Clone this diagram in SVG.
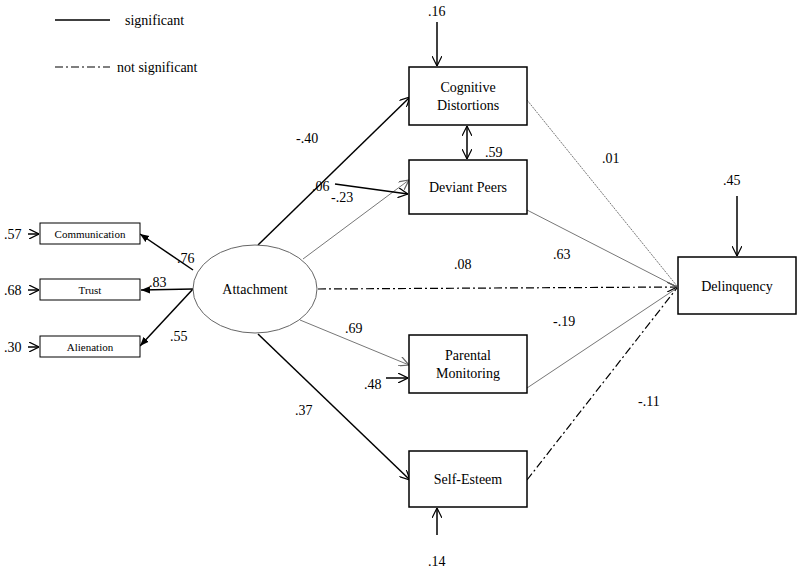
<svg xmlns="http://www.w3.org/2000/svg" width="798" height="571" viewBox="0 0 798 571" font-family="'Liberation Serif','Times New Roman','DejaVu Serif',serif">
<defs>
<marker id="o" viewBox="0 0 10 10" refX="10" refY="5" markerWidth="10" markerHeight="10" orient="auto-start-reverse" markerUnits="userSpaceOnUse"><path d="M0,0 L10,5 L0,10" fill="none" stroke="#000" stroke-width="1.2"/></marker>
<marker id="og" viewBox="0 0 10 10" refX="10" refY="5" markerWidth="10" markerHeight="10" orient="auto" markerUnits="userSpaceOnUse"><path d="M0,0 L10,5 L0,10" fill="none" stroke="#666" stroke-width="1.2"/></marker>
<marker id="f" viewBox="0 0 10 10" refX="10" refY="5" markerWidth="9" markerHeight="9" orient="auto" markerUnits="userSpaceOnUse"><path d="M0,1 L10,5 L0,9 Z" fill="#000"/></marker>
</defs>
<style>
text{font-family:'Liberation Serif','Times New Roman','DejaVu Serif',serif;font-size:14px;fill:#000}
.s{font-size:11px}
.b{fill:#fff;stroke:#000;stroke-width:1.5}
.bs{fill:#fff;stroke:#000;stroke-width:1}
.k{stroke:#000;stroke-width:1.5;fill:none}
.g{stroke:#777;stroke-width:1;fill:none}
.d{stroke:#000;stroke-width:1.2;fill:none;stroke-dasharray:8,3,2,3}
</style>
<rect width="798" height="571" fill="#fff"/>
<g id="legend">
<line x1="55" y1="20" x2="110" y2="20" class="k"/><text x="125" y="25">significant</text>
<line x1="55" y1="67" x2="110" y2="67" class="d"/><text x="117" y="72">not significant</text>
</g>
<g id="connectors">
<path d="M193,270 L140,234" class="k" stroke-width="1" marker-end="url(#f)"/>
<path d="M193,289 L141,290" class="k" stroke-width="1" marker-end="url(#f)"/>
<path d="M193,289 L140,346" class="k" stroke-width="1" marker-end="url(#f)"/>
<path d="M28,234 L39,234" class="k" stroke-width="1" marker-end="url(#o)"/>
<path d="M28,290 L39,290" class="k" stroke-width="1" marker-end="url(#o)"/>
<path d="M28,347 L39,347" class="k" stroke-width="1" marker-end="url(#o)"/>
<path d="M258,245 L410,97" class="k" marker-end="url(#o)"/>
<path d="M303,259 L409,180" class="g" marker-end="url(#og)"/>
<path d="M318,289 L677,287" class="d" marker-end="url(#o)"/>
<path d="M300,320 L409,365" class="g" marker-end="url(#og)"/>
<path d="M258,334 L410,480" class="k" marker-end="url(#o)"/>
<path d="M527,100 L677,286" class="g" stroke-dasharray="2,1" stroke="#999"/>
<path d="M527,210 L677,287" class="g"/>
<path d="M527,388 L677,288" class="g"/>
<path d="M527,480 L677,288" class="d"/>
<path d="M467,126 L467,159" class="k" stroke-width="1.2" marker-start="url(#o)" marker-end="url(#o)"/>
<path d="M437,22 L437,66" class="k" stroke-width="1.2" marker-end="url(#o)"/>
<path d="M335,184 L408,194" class="k" stroke-width="1.2" marker-end="url(#o)"/>
<path d="M386,378 L408,378" class="k" stroke-width="1.2" marker-end="url(#o)"/>
<path d="M737,196 L737,256" class="k" stroke-width="1.2" marker-end="url(#o)"/>
<path d="M437,535 L437,508" class="k" stroke-width="1.2" marker-end="url(#o)"/>
</g>
<g id="communication"><rect x="40" y="223" width="100" height="21" class="bs"/><text x="90" y="238" class="s" text-anchor="middle">Communication</text></g>
<g id="trust"><rect x="40" y="279" width="100" height="21" class="bs"/><text x="90" y="294" class="s" text-anchor="middle">Trust</text></g>
<g id="alienation"><rect x="40" y="336" width="100" height="21" class="bs"/><text x="90" y="351" class="s" text-anchor="middle">Alienation</text></g>
<g id="attachment"><ellipse cx="255" cy="289" rx="62" ry="44" fill="#fff" stroke="#666"/><text x="255" y="294" text-anchor="middle">Attachment</text></g>
<g id="cognitive"><rect x="409" y="67" width="118" height="58" class="b"/><text x="468" y="92" text-anchor="middle">Cognitive</text><text x="468" y="110" text-anchor="middle">Distortions</text></g>
<g id="deviant"><rect x="409" y="160" width="118" height="54" class="b"/><text x="468" y="192" text-anchor="middle">Deviant Peers</text></g>
<g id="parental"><rect x="409" y="335" width="118" height="58" class="b"/><text x="468" y="360" text-anchor="middle">Parental</text><text x="468" y="378" text-anchor="middle">Monitoring</text></g>
<g id="selfesteem"><rect x="409" y="451" width="118" height="56" class="b"/><text x="468" y="484" text-anchor="middle">Self-Esteem</text></g>
<g id="delinquency"><rect x="678" y="257" width="118" height="57" class="b"/><text x="737" y="291" text-anchor="middle">Delinquency</text></g>
<g id="labels">
<text x="4" y="239">.57</text><text x="4" y="295">.68</text><text x="4" y="352">.30</text>
<text x="177" y="263">.76</text><text x="149" y="287">.83</text><text x="170" y="341">.55</text>
<text x="296" y="143">-.40</text><text x="331" y="202">-.23</text><text x="345" y="333">.69</text><text x="295" y="415">.37</text>
<text x="312" y="191">.06</text><text x="364" y="389">.48</text>
<text x="428" y="16">.16</text><text x="485" y="157">.59</text><text x="428" y="566">.14</text>
<text x="602" y="163">.01</text><text x="553" y="259">.63</text><text x="454" y="269">.08</text>
<text x="553" y="326">-.19</text><text x="638" y="406">-.11</text><text x="723" y="185">.45</text>
</g>
</svg>
